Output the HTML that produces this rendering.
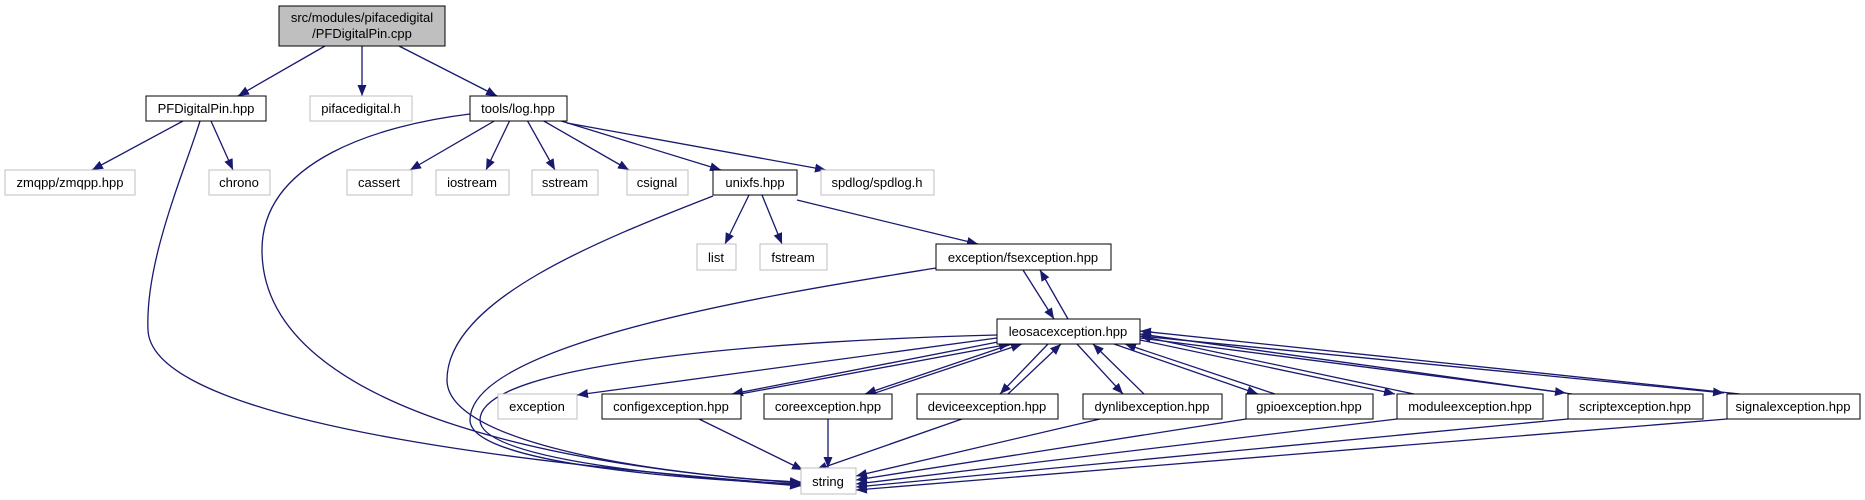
<!DOCTYPE html>
<html><head><meta charset="utf-8"><style>
html,body{margin:0;padding:0;background:#fff;}
svg{display:block;}
text{font-family:"Liberation Sans",Arial,sans-serif;font-size:13px;fill:#000;}
</style></head><body>
<svg width="1865" height="500" viewBox="0 0 1865 500" xmlns="http://www.w3.org/2000/svg">
<defs>
<marker id="a" markerUnits="userSpaceOnUse" markerWidth="12" markerHeight="10" refX="11" refY="4.5" orient="auto">
<path d="M0,0 L11,4.5 L0,9 z" fill="#191970"/>
</marker>
</defs>
<g fill="none" stroke="#191970" stroke-width="1.3" marker-end="url(#a)">
<path d="M325,46 L238,96"/>
<path d="M362,46 L362,96"/>
<path d="M399,46 L497,96"/>
<path d="M183,121 L92,170"/>
<path d="M211,121 L233,170"/>
<path d="M200,121 C185,170 145,260 148,330 C152,430 600,470 801,485"/>
<path d="M470,114 C380,125 262,160 262,250 C262,420 600,470 801,483"/>
<path d="M496,120 L410,170"/>
<path d="M510,120 L486,170"/>
<path d="M527,120 L555,170"/>
<path d="M542,120 L629,170"/>
<path d="M558,120 L721,170"/>
<path d="M567,123 L826,170"/>
<path d="M749,195 L725,244"/>
<path d="M762,195 L782,244"/>
<path d="M797,200 L978,244"/>
<path d="M713,196 C600,240 447,300 447,380 C447,450 700,478 801,482"/>
<path d="M936,268 C800,290 470,340 470,420 C470,465 700,480 801,484"/>
<path d="M1023,270 L1054,319"/>
<path d="M1068,319 L1040,270"/>
<path d="M997,335 C800,340 480,360 480,420 C480,462 700,478 801,486"/>
<path d="M997,338 L577,395"/>
<path d="M1003,341 L732,394"/>
<path d="M740,394 L1010,344"/>
<path d="M1012,344 L865,394"/>
<path d="M872,394 L1022,344"/>
<path d="M1048,344 L1000,394"/>
<path d="M1008,394 L1061,344"/>
<path d="M1077,344 L1123,394"/>
<path d="M1144,394 L1093,344"/>
<path d="M1114,344 L1258,394"/>
<path d="M1275,394 L1125,344"/>
<path d="M1140,340 L1395,394"/>
<path d="M1414,394 L1140,336"/>
<path d="M1140,338 L1566,393"/>
<path d="M1572,394 L1140,334"/>
<path d="M1140,336 L1724,393"/>
<path d="M1740,394 L1140,331"/>
<path d="M699,419 L803,470"/>
<path d="M828,419 L828,468"/>
<path d="M962,419 L816,470"/>
<path d="M1100,419 L856,476"/>
<path d="M1246,419 L856,480"/>
<path d="M1397,419 L856,484"/>
<path d="M1568,419 L856,487"/>
<path d="M1727,419 L856,490"/>
</g>
<g stroke-width="1">
<rect x="279" y="6" width="166" height="40" fill="#bfbfbf" stroke="#000"/>
<g fill="#fff" stroke="#000">
<rect x="146" y="96" width="120" height="25"/>
<rect x="470" y="96" width="97" height="25"/>
<rect x="713" y="170" width="84" height="25"/>
<rect x="936" y="244" width="175" height="26"/>
<rect x="997" y="319" width="143" height="25"/>
<rect x="602" y="394" width="139" height="25"/>
<rect x="764" y="394" width="128" height="25"/>
<rect x="917" y="394" width="141" height="25"/>
<rect x="1083" y="394" width="139" height="25"/>
<rect x="1246" y="394" width="127" height="25"/>
<rect x="1397" y="394" width="146" height="25"/>
<rect x="1568" y="394" width="135" height="25"/>
<rect x="1727" y="394" width="133" height="25"/>
</g>
<g fill="#fff" stroke="#bfbfbf">
<rect x="310" y="96" width="102" height="25"/>
<rect x="5" y="170" width="130" height="25"/>
<rect x="209" y="170" width="61" height="25"/>
<rect x="347" y="170" width="65" height="25"/>
<rect x="436" y="170" width="73" height="25"/>
<rect x="532" y="170" width="66" height="25"/>
<rect x="627" y="170" width="61" height="25"/>
<rect x="821" y="170" width="113" height="25"/>
<rect x="697" y="244" width="39" height="26"/>
<rect x="760" y="244" width="67" height="26"/>
<rect x="498" y="394" width="79" height="25"/>
<rect x="801" y="468" width="55" height="26"/>
</g>
</g>
<g text-anchor="middle">
<text x="362" y="22">src/modules/pifacedigital</text>
<text x="362" y="38">/PFDigitalPin.cpp</text>
<text x="206" y="113">PFDigitalPin.hpp</text>
<text x="361" y="113">pifacedigital.h</text>
<text x="518" y="113">tools/log.hpp</text>
<text x="70" y="187">zmqpp/zmqpp.hpp</text>
<text x="239" y="187">chrono</text>
<text x="379" y="187">cassert</text>
<text x="472" y="187">iostream</text>
<text x="565" y="187">sstream</text>
<text x="657" y="187">csignal</text>
<text x="755" y="187">unixfs.hpp</text>
<text x="877" y="187">spdlog/spdlog.h</text>
<text x="716" y="262">list</text>
<text x="793" y="262">fstream</text>
<text x="1023" y="262">exception/fsexception.hpp</text>
<text x="1068" y="336">leosacexception.hpp</text>
<text x="537" y="411">exception</text>
<text x="671" y="411">configexception.hpp</text>
<text x="828" y="411">coreexception.hpp</text>
<text x="987" y="411">deviceexception.hpp</text>
<text x="1152" y="411">dynlibexception.hpp</text>
<text x="1309" y="411">gpioexception.hpp</text>
<text x="1470" y="411">moduleexception.hpp</text>
<text x="1635" y="411">scriptexception.hpp</text>
<text x="1793" y="411">signalexception.hpp</text>
<text x="828" y="486">string</text>
</g>
</svg>
</body></html>
